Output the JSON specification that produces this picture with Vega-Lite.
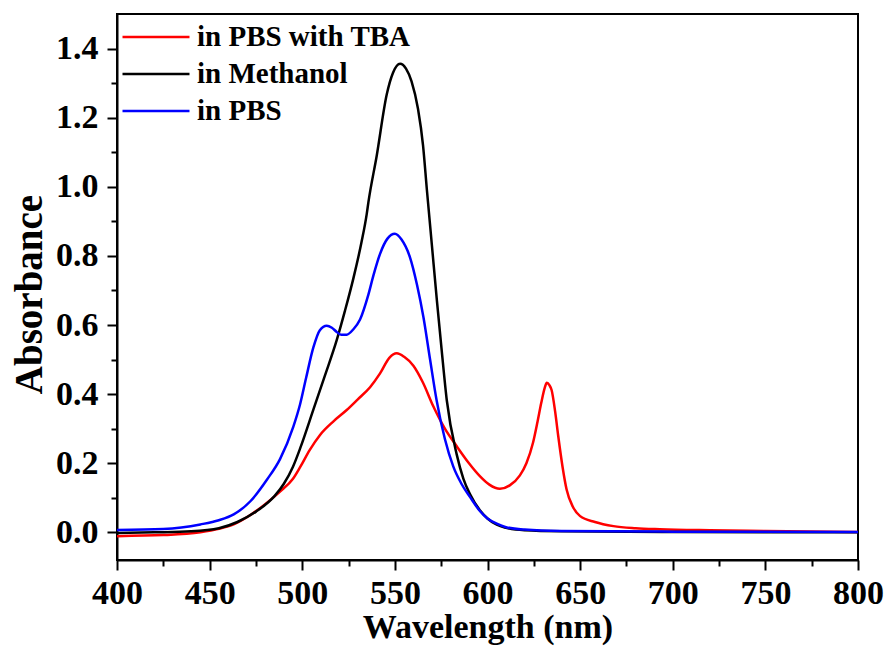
{
  "$schema": "https://vega.github.io/schema/vega-lite/v6.json",
  "width": 741,
  "height": 546,
  "autosize": {"type": "none"},
  "padding": {"left": 117, "top": 14, "right": 30, "bottom": 88},
  "background": "white",
  "config": {
    "view": {"stroke": "black", "strokeWidth": 2},
    "font": "Liberation Serif"
  },
  "datasets": {
    "spectra": [
      {"series": "in PBS with TBA", "wl": 400, "abs": -0.011},
      {"series": "in PBS with TBA", "wl": 425, "abs": -0.008},
      {"series": "in PBS with TBA", "wl": 445, "abs": 0.0},
      {"series": "in PBS with TBA", "wl": 455, "abs": 0.01},
      {"series": "in PBS with TBA", "wl": 463, "abs": 0.023},
      {"series": "in PBS with TBA", "wl": 472, "abs": 0.05},
      {"series": "in PBS with TBA", "wl": 481, "abs": 0.086},
      {"series": "in PBS with TBA", "wl": 488, "abs": 0.118},
      {"series": "in PBS with TBA", "wl": 495, "abs": 0.155},
      {"series": "in PBS with TBA", "wl": 499, "abs": 0.19},
      {"series": "in PBS with TBA", "wl": 504, "abs": 0.238},
      {"series": "in PBS with TBA", "wl": 509.6, "abs": 0.282},
      {"series": "in PBS with TBA", "wl": 517, "abs": 0.322},
      {"series": "in PBS with TBA", "wl": 524, "abs": 0.354},
      {"series": "in PBS with TBA", "wl": 530, "abs": 0.385},
      {"series": "in PBS with TBA", "wl": 536.6, "abs": 0.42},
      {"series": "in PBS with TBA", "wl": 542, "abs": 0.46},
      {"series": "in PBS with TBA", "wl": 547, "abs": 0.505},
      {"series": "in PBS with TBA", "wl": 551, "abs": 0.518},
      {"series": "in PBS with TBA", "wl": 555, "abs": 0.508},
      {"series": "in PBS with TBA", "wl": 560, "abs": 0.482},
      {"series": "in PBS with TBA", "wl": 565, "abs": 0.435},
      {"series": "in PBS with TBA", "wl": 570.8, "abs": 0.364},
      {"series": "in PBS with TBA", "wl": 577, "abs": 0.3},
      {"series": "in PBS with TBA", "wl": 583.4, "abs": 0.249},
      {"series": "in PBS with TBA", "wl": 590, "abs": 0.2},
      {"series": "in PBS with TBA", "wl": 596, "abs": 0.162},
      {"series": "in PBS with TBA", "wl": 601, "abs": 0.138},
      {"series": "in PBS with TBA", "wl": 606.7, "abs": 0.126},
      {"series": "in PBS with TBA", "wl": 612, "abs": 0.136},
      {"series": "in PBS with TBA", "wl": 617.5, "abs": 0.165},
      {"series": "in PBS with TBA", "wl": 621, "abs": 0.2},
      {"series": "in PBS with TBA", "wl": 624.6, "abs": 0.26},
      {"series": "in PBS with TBA", "wl": 627, "abs": 0.32},
      {"series": "in PBS with TBA", "wl": 629, "abs": 0.374},
      {"series": "in PBS with TBA", "wl": 631, "abs": 0.42},
      {"series": "in PBS with TBA", "wl": 632, "abs": 0.433},
      {"series": "in PBS with TBA", "wl": 633.5, "abs": 0.425},
      {"series": "in PBS with TBA", "wl": 634.6, "abs": 0.412},
      {"series": "in PBS with TBA", "wl": 636.5, "abs": 0.35},
      {"series": "in PBS with TBA", "wl": 638.2, "abs": 0.278},
      {"series": "in PBS with TBA", "wl": 640.5, "abs": 0.19},
      {"series": "in PBS with TBA", "wl": 642.7, "abs": 0.124},
      {"series": "in PBS with TBA", "wl": 646, "abs": 0.075},
      {"series": "in PBS with TBA", "wl": 650, "abs": 0.047},
      {"series": "in PBS with TBA", "wl": 658, "abs": 0.03},
      {"series": "in PBS with TBA", "wl": 668, "abs": 0.018},
      {"series": "in PBS with TBA", "wl": 680, "abs": 0.012},
      {"series": "in PBS with TBA", "wl": 693, "abs": 0.009},
      {"series": "in PBS with TBA", "wl": 720, "abs": 0.006},
      {"series": "in PBS with TBA", "wl": 750, "abs": 0.004},
      {"series": "in PBS with TBA", "wl": 800, "abs": 0.001},

      {"series": "in Methanol", "wl": 400, "abs": -0.002},
      {"series": "in Methanol", "wl": 420, "abs": 0.0},
      {"series": "in Methanol", "wl": 440, "abs": 0.003},
      {"series": "in Methanol", "wl": 455, "abs": 0.012},
      {"series": "in Methanol", "wl": 465, "abs": 0.03},
      {"series": "in Methanol", "wl": 475, "abs": 0.06},
      {"series": "in Methanol", "wl": 485, "abs": 0.105},
      {"series": "in Methanol", "wl": 490, "abs": 0.14},
      {"series": "in Methanol", "wl": 495, "abs": 0.19},
      {"series": "in Methanol", "wl": 499, "abs": 0.245},
      {"series": "in Methanol", "wl": 506, "abs": 0.355},
      {"series": "in Methanol", "wl": 512, "abs": 0.45},
      {"series": "in Methanol", "wl": 518.6, "abs": 0.556},
      {"series": "in Methanol", "wl": 523, "abs": 0.64},
      {"series": "in Methanol", "wl": 527.6, "abs": 0.735},
      {"series": "in Methanol", "wl": 532, "abs": 0.84},
      {"series": "in Methanol", "wl": 534.8, "abs": 0.921},
      {"series": "in Methanol", "wl": 535.7, "abs": 0.955},
      {"series": "in Methanol", "wl": 540.2, "abs": 1.09},
      {"series": "in Methanol", "wl": 545.6, "abs": 1.267},
      {"series": "in Methanol", "wl": 549, "abs": 1.33},
      {"series": "in Methanol", "wl": 552.8, "abs": 1.356},
      {"series": "in Methanol", "wl": 556, "abs": 1.342},
      {"series": "in Methanol", "wl": 559, "abs": 1.305},
      {"series": "in Methanol", "wl": 562.5, "abs": 1.225},
      {"series": "in Methanol", "wl": 565.2, "abs": 1.12},
      {"series": "in Methanol", "wl": 567.3, "abs": 0.99},
      {"series": "in Methanol", "wl": 570, "abs": 0.83},
      {"series": "in Methanol", "wl": 572.7, "abs": 0.67},
      {"series": "in Methanol", "wl": 575.3, "abs": 0.525},
      {"series": "in Methanol", "wl": 578, "abs": 0.383},
      {"series": "in Methanol", "wl": 583.4, "abs": 0.225},
      {"series": "in Methanol", "wl": 587, "abs": 0.155},
      {"series": "in Methanol", "wl": 590.6, "abs": 0.11},
      {"series": "in Methanol", "wl": 596, "abs": 0.063},
      {"series": "in Methanol", "wl": 600, "abs": 0.04},
      {"series": "in Methanol", "wl": 605, "abs": 0.022},
      {"series": "in Methanol", "wl": 610, "abs": 0.013},
      {"series": "in Methanol", "wl": 620, "abs": 0.006},
      {"series": "in Methanol", "wl": 640, "abs": 0.003},
      {"series": "in Methanol", "wl": 700, "abs": 0.001},
      {"series": "in Methanol", "wl": 800, "abs": 0.0},

      {"series": "in PBS", "wl": 400, "abs": 0.007},
      {"series": "in PBS", "wl": 425, "abs": 0.01},
      {"series": "in PBS", "wl": 445, "abs": 0.023},
      {"series": "in PBS", "wl": 455, "abs": 0.035},
      {"series": "in PBS", "wl": 463, "abs": 0.052},
      {"series": "in PBS", "wl": 472, "abs": 0.09},
      {"series": "in PBS", "wl": 481, "abs": 0.153},
      {"series": "in PBS", "wl": 488, "abs": 0.212},
      {"series": "in PBS", "wl": 495.2, "abs": 0.306},
      {"series": "in PBS", "wl": 498.8, "abs": 0.37},
      {"series": "in PBS", "wl": 502, "abs": 0.445},
      {"series": "in PBS", "wl": 506, "abs": 0.535},
      {"series": "in PBS", "wl": 509.5, "abs": 0.585},
      {"series": "in PBS", "wl": 513.2, "abs": 0.598},
      {"series": "in PBS", "wl": 516, "abs": 0.592},
      {"series": "in PBS", "wl": 518.6, "abs": 0.58},
      {"series": "in PBS", "wl": 521, "abs": 0.572},
      {"series": "in PBS", "wl": 524, "abs": 0.572},
      {"series": "in PBS", "wl": 527.5, "abs": 0.587},
      {"series": "in PBS", "wl": 531.2, "abs": 0.616},
      {"series": "in PBS", "wl": 535.7, "abs": 0.688},
      {"series": "in PBS", "wl": 538.5, "abs": 0.745},
      {"series": "in PBS", "wl": 542, "abs": 0.806},
      {"series": "in PBS", "wl": 546, "abs": 0.85},
      {"series": "in PBS", "wl": 550, "abs": 0.864},
      {"series": "in PBS", "wl": 553.5, "abs": 0.848},
      {"series": "in PBS", "wl": 558.2, "abs": 0.795},
      {"series": "in PBS", "wl": 562, "abs": 0.715},
      {"series": "in PBS", "wl": 565.4, "abs": 0.623},
      {"series": "in PBS", "wl": 569, "abs": 0.5},
      {"series": "in PBS", "wl": 572.5, "abs": 0.383},
      {"series": "in PBS", "wl": 577, "abs": 0.27},
      {"series": "in PBS", "wl": 581.5, "abs": 0.191},
      {"series": "in PBS", "wl": 586, "abs": 0.14},
      {"series": "in PBS", "wl": 590.6, "abs": 0.102},
      {"series": "in PBS", "wl": 596, "abs": 0.061},
      {"series": "in PBS", "wl": 600, "abs": 0.04},
      {"series": "in PBS", "wl": 605, "abs": 0.025},
      {"series": "in PBS", "wl": 610, "abs": 0.015},
      {"series": "in PBS", "wl": 620, "abs": 0.008},
      {"series": "in PBS", "wl": 640, "abs": 0.004},
      {"series": "in PBS", "wl": 700, "abs": 0.002},
      {"series": "in PBS", "wl": 800, "abs": 0.001}
    ]
  },
  "data": {"name": "spectra"},
  "layer": [
    {
      "mark": {"type": "line", "strokeWidth": 2.5, "interpolate": "monotone"},
      "encoding": {
        "x": {
          "field": "wl", "type": "quantitative",
          "scale": {"domain": [400, 800], "nice": false, "zero": false},
          "axis": {
            "orient": "bottom",
            "title": "Wavelength (nm)",
            "values": [400, 450, 500, 550, 600, 650, 700, 750, 800],
            "format": "d",
            "grid": false,
            "domainColor": "black", "domainWidth": 2,
            "tickColor": "black", "tickWidth": 2, "tickSize": 10,
            "labelFont": "Liberation Serif", "labelFontWeight": "bold", "labelFontSize": 34, "labelColor": "black",
            "labelPadding": 6, "labelFlush": false, "labelOverlap": false,
            "titleFont": "Liberation Serif", "titleFontWeight": "bold", "titleFontSize": 34, "titleColor": "black",
            "titlePadding": 0
          }
        },
        "y": {
          "field": "abs", "type": "quantitative",
          "scale": {"domain": [-0.08, 1.5], "nice": false, "zero": false},
          "axis": {
            "orient": "left",
            "title": "Absorbance",
            "values": [0, 0.2, 0.4, 0.6, 0.8, 1.0, 1.2, 1.4],
            "format": ".1f",
            "grid": false,
            "domainColor": "black", "domainWidth": 2,
            "tickColor": "black", "tickWidth": 2, "tickSize": 10,
            "labelFont": "Liberation Serif", "labelFontWeight": "bold", "labelFontSize": 34, "labelColor": "black",
            "labelPadding": 9, "labelFlush": false, "labelOverlap": false,
            "titleFont": "Liberation Serif", "titleFontWeight": "bold", "titleFontSize": 39, "titleColor": "black",
            "titlePadding": 6, "titleY": 280
          }
        },
        "color": {
          "field": "series", "type": "nominal",
          "scale": {"domain": ["in PBS with TBA", "in Methanol", "in PBS"], "range": ["#ff0000", "#000000", "#0000ff"]},
          "legend": {
            "orient": "none", "legendX": 21, "legendY": 5,
            "title": null,
            "symbolType": "M-2,0L2,0", "symbolSize": 1122, "symbolStrokeWidth": 2.5,
            "labelFont": "Liberation Serif", "labelFontWeight": "bold", "labelFontSize": 29, "labelColor": "black",
            "labelLimit": 400, "labelOffset": 23, "rowPadding": 4, "padding": 0
          }
        },
        "detail": {"field": "series"}
      }
    },
    {
      "mark": {"type": "line", "opacity": 0},
      "encoding": {
        "x": {
          "field": "wl", "type": "quantitative",
          "axis": {
            "orient": "bottom", "title": null, "labels": false, "domain": false, "grid": false,
            "values": [425, 475, 525, 575, 625, 675, 725, 775],
            "tickColor": "black", "tickWidth": 2, "tickSize": 6
          }
        },
        "y": {
          "field": "abs", "type": "quantitative",
          "axis": {
            "orient": "left", "title": null, "labels": false, "domain": false, "grid": false,
            "values": [-0.1, 0.1, 0.3, 0.5, 0.7, 0.9, 1.1, 1.3],
            "tickColor": "black", "tickWidth": 2, "tickSize": 6
          }
        }
      }
    }
  ],
  "resolve": {"axis": {"x": "independent", "y": "independent"}}
}
